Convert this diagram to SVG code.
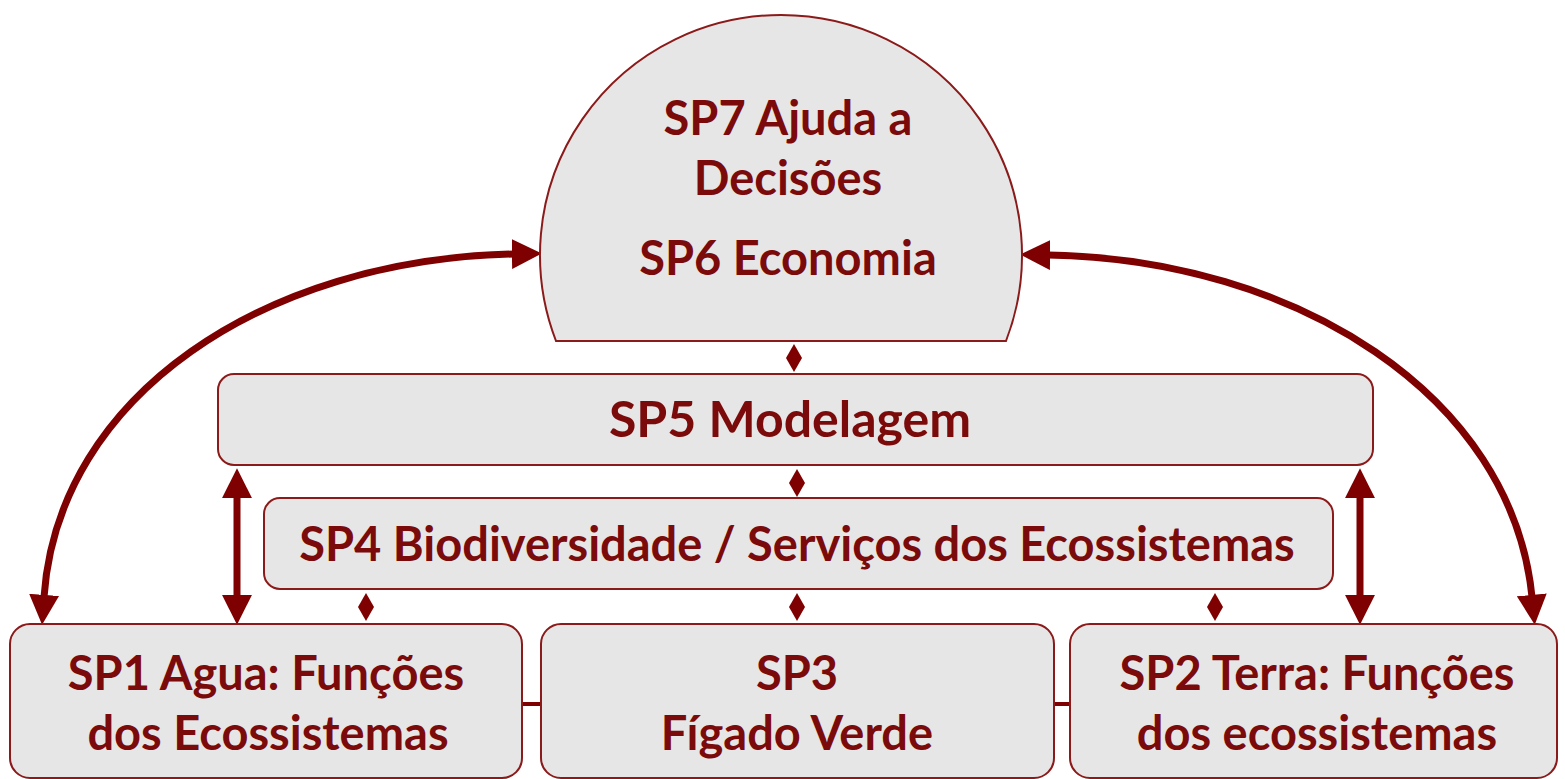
<svg xmlns="http://www.w3.org/2000/svg" width="1565" height="779" viewBox="0 0 1565 779">
<style>
.box{fill:#e6e6e6;stroke:#8b1a1a;stroke-width:2}
.t{font-family:Lato,"Liberation Sans",sans-serif;font-weight:bold;fill:#7b0a0a;text-anchor:middle;font-size:47px}
.arr{fill:none;stroke:#7f0000;stroke-width:7}
.dia{fill:#7f0000}
.lnk{stroke:#7f0000;stroke-width:4}
</style>
<defs>
<marker id="ah" markerUnits="userSpaceOnUse" markerWidth="30" markerHeight="30" refX="2" refY="14" orient="auto-start-reverse" viewBox="0 0 28 28">
<path d="M0,0 L28,14 L0,28 Z" fill="#7f0000"/>
</marker>
</defs>
<rect width="1565" height="779" fill="#ffffff"/>
<g id="connectors">
<path class="arr" d="M44 597 C58 395 265 259 514 254" marker-start="url(#ah)" marker-end="url(#ah)"/>
<path class="arr" d="M1048 255 C1295 259 1512 395 1532 597" marker-start="url(#ah)" marker-end="url(#ah)"/>
<line class="arr" x1="237" y1="496" x2="237" y2="597" marker-start="url(#ah)" marker-end="url(#ah)"/>
<line class="arr" x1="1360" y1="496" x2="1360" y2="597" marker-start="url(#ah)" marker-end="url(#ah)"/>
<polygon class="dia" points="794,344 802,358 794,372 786,358"/>
<polygon class="dia" points="797,469 805,483 797,497 789,483"/>
<polygon class="dia" points="366,593 374,607 366,621 358,607"/>
<polygon class="dia" points="797,593 805,607 797,621 789,607"/>
<polygon class="dia" points="1215,593 1223,607 1215,621 1207,607"/>
<line class="lnk" x1="522" y1="704" x2="541" y2="704"/>
<line class="lnk" x1="1054" y1="704" x2="1070" y2="704"/>
</g>
<g id="sp7">
<path class="box" d="M556 341 A241 240 0 1 1 1006 341 Z"/>
<text class="t" x="788" y="135">SP7 Ajuda a</text>
<text class="t" x="788" y="195">Decisões</text>
<text class="t" x="788" y="275">SP6 Economia</text>
</g>
<g id="sp5">
<rect class="box" x="218" y="374" width="1155" height="91" rx="16"/>
<text class="t" x="790" y="437" style="font-size:50px">SP5 Modelagem</text>
</g>
<g id="sp4">
<rect class="box" x="264" y="498" width="1069" height="91" rx="16"/>
<text class="t" x="797" y="561">SP4 Biodiversidade / Serviços dos Ecossistemas</text>
</g>
<g id="sp1">
<rect class="box" x="10" y="624" width="512" height="154" rx="20"/>
<text class="t" x="266" y="690">SP1 Agua: Funções</text>
<text class="t" x="268" y="750">dos Ecossistemas</text>
</g>
<g id="sp3">
<rect class="box" x="541" y="624" width="513" height="154" rx="20"/>
<text class="t" x="797" y="690">SP3</text>
<text class="t" x="797" y="750">Fígado Verde</text>
</g>
<g id="sp2">
<rect class="box" x="1070" y="624" width="487" height="154" rx="20"/>
<text class="t" x="1317" y="690">SP2 Terra: Funções</text>
<text class="t" x="1317" y="750">dos ecossistemas</text>
</g>
</svg>
